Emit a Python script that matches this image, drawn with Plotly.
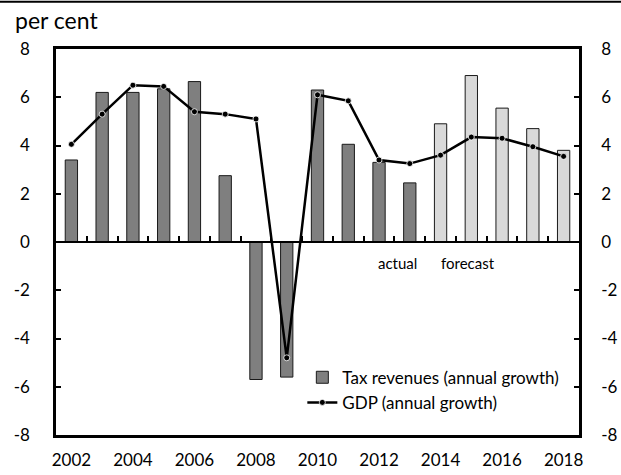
import plotly.graph_objects as go

years = list(range(2002, 2019))
tax_revenues = [3.4, 6.2, 6.2, 6.35, 6.65, 2.75, -5.7, -5.6, 6.3, 4.05, 3.3, 2.45, 4.9, 6.9, 5.55, 4.7, 3.8]
gdp_growth = [4.05, 5.3, 6.5, 6.45, 5.4, 5.3, 5.1, -4.8, 6.1, 5.85, 3.4, 3.25, 3.6, 4.35, 4.3, 3.95, 3.55]
first_forecast_year = 2014
year_ticks = [2002, 2004, 2006, 2008, 2010, 2012, 2014, 2016, 2018]
y_ticks = [-8, -6, -4, -2, 0, 2, 4, 6, 8]
y_tick_text = [str(v) for v in y_ticks]
boundaries = [y + 0.5 for y in years[:-1]]

FONT = "Lato"
bar_colors = ["#7f7f7f" if y < first_forecast_year else "#d9d9d9" for y in years]

fig = go.Figure()
fig.add_trace(go.Bar(
    x=years, y=tax_revenues, width=0.4,
    marker=dict(color=bar_colors, line=dict(color="#1a1a1a", width=1)),
    name="Tax revenues (annual growth)",
))
fig.add_trace(go.Scatter(
    x=years, y=gdp_growth, mode="lines+markers",
    line=dict(color="black", width=2.5),
    marker=dict(color="black", size=6, line=dict(color="white", width=0.8)),
    name="GDP (annual growth)",
))
# invisible trace to drive the right-hand y axis
fig.add_trace(go.Scatter(x=years, y=gdp_growth, yaxis="y2", mode="lines",
                         line=dict(width=0), showlegend=False, hoverinfo="skip",
                         opacity=0))
# invisible trace to drive zero-line axis with ticks
fig.add_trace(go.Scatter(x=years, y=gdp_growth, xaxis="x2", mode="lines",
                         line=dict(width=0), showlegend=False, hoverinfo="skip",
                         opacity=0))

fig.update_layout(
    width=621, height=475,
    margin=dict(l=56, r=42, t=49, b=40, autoexpand=False),
    paper_bgcolor="white", plot_bgcolor="white",
    font=dict(family=FONT, size=17, color="black"),
    showlegend=True,
    legend=dict(x=0.471, y=0.195, xanchor="left", yanchor="top",
                bgcolor="rgba(0,0,0,0)", borderwidth=0,
                font=dict(family=FONT, size=17, color="black"),
                itemwidth=30, tracegroupgap=0),
    xaxis=dict(range=[2001.5, 2018.5], tickvals=year_ticks, ticktext=[str(v) for v in year_ticks],
               ticks="", showgrid=False, zeroline=False, automargin=False,
               showline=True, linecolor="black", linewidth=2.5, mirror=True,
               ticklabelstandoff=8, tickfont=dict(size=17)),
    xaxis2=dict(range=[2001.5, 2018.5], overlaying="x", anchor="free", position=0.5,
                side="bottom", tickvals=boundaries, ticks="inside", ticklen=5, tickwidth=2,
                tickcolor="black", showticklabels=False, showgrid=False, zeroline=False,
                automargin=False,
                showline=True, linecolor="black", linewidth=2),
    yaxis=dict(range=[-8, 8], tickvals=y_ticks, ticktext=y_tick_text, ticks="inside",
               ticklen=5, tickwidth=2, tickcolor="black", showgrid=False, zeroline=False,
               showline=True, linecolor="black", linewidth=2.5, automargin=False,
               ticklabelstandoff=20, tickfont=dict(size=17)),
    yaxis2=dict(range=[-8, 8], overlaying="y", side="right", anchor="x",
                tickvals=y_ticks, ticktext=y_tick_text, ticks="inside",
                ticklen=5, tickwidth=2, tickcolor="black", showgrid=False, zeroline=False,
                showline=True, linecolor="black", linewidth=2.5, automargin=False,
                ticklabelstandoff=16, tickfont=dict(size=17)),
    bargap=0.6,
)

fig.add_annotation(text="per cent", xref="paper", yref="paper", x=-0.083, y=1.075,
                   xanchor="left", yanchor="middle", showarrow=False,
                   font=dict(family=FONT, size=23, color="black"))
fig.add_annotation(text="actual", xref="x", yref="y", x=2012.6, y=-0.85,
                   xanchor="center", yanchor="middle", showarrow=False,
                   font=dict(family=FONT, size=15, color="black"))
fig.add_annotation(text="forecast", xref="x", yref="y", x=2014.9, y=-0.85,
                   xanchor="center", yanchor="middle", showarrow=False,
                   font=dict(family=FONT, size=15, color="black"))
fig.add_shape(type="line", xref="paper", yref="paper", x0=-0.2, x1=1.2, y0=1.1225, y1=1.1225,
              line=dict(color="black", width=2))

fig.write_html("out.html", config={"displayModeBar": False},
               post_script="document.body.style.margin='0';document.body.style.overflow='hidden';")
